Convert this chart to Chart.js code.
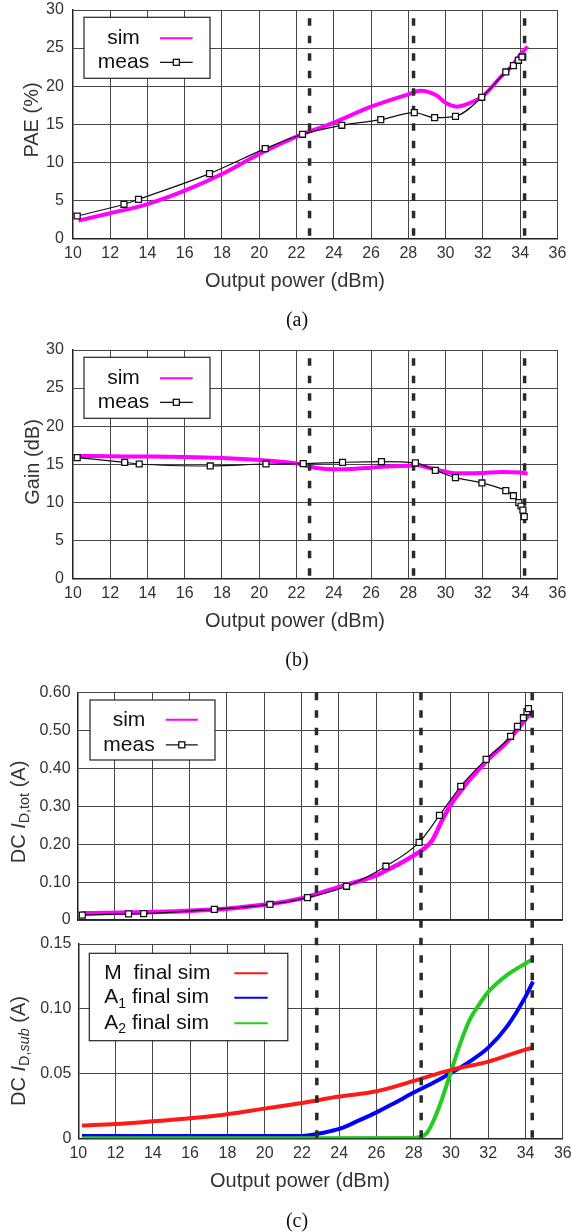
<!DOCTYPE html>
<html><head><meta charset="utf-8">
<script src="https://cdn.jsdelivr.net/npm/chart.js@4.4.0/dist/chart.umd.min.js"></script>
<style>
html,body{margin:0;padding:0;background:#fff;}
body{width:571px;height:1232px;position:relative;overflow:hidden;font-family:"Liberation Sans",Arial,Helvetica,sans-serif;}
canvas{position:absolute;left:0;}
.t{position:absolute;white-space:nowrap;color:#333;font-size:20px;line-height:1;transform:translate(-50%,-50%);}
.r{transform:translate(-50%,-50%) rotate(-90deg);}
.t sub{font-size:0.72em;vertical-align:-0.3em;line-height:1;}
.cap{position:absolute;font-family:"Liberation Serif","Times New Roman",serif;font-size:20px;line-height:1;color:#111;transform:translate(-50%,-50%);}
</style></head>
<body>
<canvas id="ca" width="571" height="300" style="top:0px"></canvas>
<canvas id="cb" width="571" height="300" style="top:340px"></canvas>
<canvas id="cc1" width="571" height="265" style="top:680px"></canvas>
<canvas id="cc2" width="571" height="302" style="top:930px"></canvas>

<div class="t r" style="left:31px;top:120px">PAE (%)</div>
<div class="t" style="left:295px;top:280px">Output power (dBm)</div>
<div class="cap" style="left:297px;top:319px">(a)</div>

<div class="t r" style="left:32px;top:462px">Gain (dB)</div>
<div class="t" style="left:295px;top:620px">Output power (dBm)</div>
<div class="cap" style="left:297px;top:659px">(b)</div>

<div class="t r" style="left:20px;top:812px">DC <i>I</i><sub>D,tot</sub> (A)</div>
<div class="t r" style="left:20px;top:1051px">DC <i>I</i><sub>D,<i>sub</i></sub> (A)</div>
<div class="t" style="left:300px;top:1180px">Output power (dBm)</div>
<div class="cap" style="left:297px;top:1220px">(c)</div>

<script>
// ---------------- DATA ----------------
const xTicksMin = 10, xTicksMax = 36, xTickStep = 2;

// (a) PAE
const paeMeasX = [10.23, 12.74, 13.52, 17.33, 20.32, 22.32, 24.43, 26.52, 28.32, 29.41, 30.53, 31.94, 33.23, 33.64, 33.91, 34.10];
const paeMeasY = [2.93, 4.47, 5.12, 8.50, 11.78, 13.67, 14.85, 15.59, 16.51, 15.86, 16.03, 18.53, 21.86, 22.69, 23.39, 23.83];
const paeSimX = [10.3, 12, 14, 16, 18, 20, 22, 24, 26, 28, 28.65, 29.5, 30, 30.6, 31, 32, 33, 33.5, 34, 34.4];
const paeSimY = [2.32, 3.3, 4.5, 6.26, 8.45, 11.08, 13.36, 15.2, 17.3, 18.92, 19.4, 18.8, 17.8, 17.3, 17.5, 18.7, 21.3, 22.5, 24.1, 25.2];

// (b) Gain
const gainMeasX = [10.23, 12.78, 13.56, 17.37, 20.36, 22.36, 24.47, 26.56, 28.38, 29.45, 30.53, 31.95, 33.23, 33.64, 33.93, 34.05, 34.15, 34.22];
const gainMeasY = [15.86, 15.24, 15.02, 14.76, 15.02, 15.07, 15.24, 15.33, 15.16, 14.19, 13.23, 12.53, 11.52, 10.85, 9.95, 9.5, 8.95, 8.1];
const gainSimX = [10.2, 12, 14, 16, 18, 20, 22, 23, 24, 25, 26, 27, 28, 28.5, 29, 30, 30.5, 31, 32, 33, 34, 34.4];
const gainSimY = [16.07, 16.03, 16.0, 15.94, 15.81, 15.55, 15.1, 14.54, 14.32, 14.37, 14.54, 14.72, 14.8, 14.85, 14.59, 14.0, 13.8, 13.8, 13.84, 13.97, 13.9, 13.75];

// (c) top: DC I_D,tot
const idMeasX = [10.25, 12.73, 13.54, 17.33, 20.31, 22.32, 24.41, 26.52, 28.30, 29.39, 30.53, 31.89, 33.20, 33.57, 33.89, 34.08, 34.16];
const idMeasY = [0.013, 0.016, 0.017, 0.028, 0.041, 0.059, 0.089, 0.142, 0.205, 0.276, 0.353, 0.424, 0.485, 0.511, 0.534, 0.550, 0.558];
const idSimX = [10.2, 14, 18, 20, 22, 24, 26, 26.5, 27.3, 28, 28.5, 29, 29.5, 30, 30.5, 31, 32, 33, 34, 34.3];
const idSimY = [0.018, 0.021, 0.030, 0.040, 0.057, 0.087, 0.118, 0.130, 0.150, 0.170, 0.186, 0.21, 0.26, 0.305, 0.339, 0.37, 0.424, 0.47, 0.53, 0.55];

// (c) bottom: DC I_D,sub
const mX  = [10.2, 12, 14, 16, 18, 20, 22, 24, 26, 28, 30, 32, 34, 34.4];
const mY  = [0.0098, 0.011, 0.0131, 0.0154, 0.0185, 0.0229, 0.0273, 0.0322, 0.0363, 0.0443, 0.0528, 0.0592, 0.0685, 0.070];
const a1X = [10.2, 22, 22.5, 23, 24, 25, 26, 27, 28, 29, 30, 31, 32, 33, 34, 34.4];
const a1Y = [0.0018, 0.0018, 0.0026, 0.0039, 0.0072, 0.0134, 0.0200, 0.0275, 0.0353, 0.0425, 0.0504, 0.0592, 0.0700, 0.0862, 0.1094, 0.121];
const a2X = [10.2, 20, 28, 28.4, 28.7, 29, 29.5, 30, 30.5, 31, 31.5, 32, 33, 34, 34.4];
const a2Y = [0, 0, 0.0003, 0.0013, 0.004, 0.0116, 0.0296, 0.0515, 0.0733, 0.0914, 0.103, 0.113, 0.126, 0.135, 0.1385];

// vertical dashed reference lines (dBm)
const markersAB = [22.7, 28.28, 34.24];
const markersC  = [22.8, 28.4, 34.36];

const labelsAB = ['sim', 'meas'];
const labelsC  = ['M  final sim', 'A_1 final sim', 'A_2 final sim'];

// ---------------- STYLE / HELPERS ----------------
const FONT = '"Liberation Sans", Arial, Helvetica, sans-serif';
const GRID = '#464646';
const AXIS = '#222';
const MAG = '#ff00ff';

const pts = (xs, ys) => xs.map((x, i) => ({x, y: ys[i]}));

function drawRich(ctx, text, x, y, align, size) {
  const parts = [];
  text.split(/(_\w)/).forEach(s => {
    if (!s) return;
    if (s[0] === '_' && s.length === 2) parts.push({t: s[1], sub: true});
    else parts.push({t: s, sub: false});
  });
  const f = `${size}px ${FONT}`, fs = `${Math.round(size * 0.68)}px ${FONT}`;
  let total = 0;
  parts.forEach(p => { ctx.font = p.sub ? fs : f; p.w = ctx.measureText(p.t).width; total += p.w; });
  let cx = align === 'center' ? x - total / 2 : x;
  ctx.textAlign = 'left';
  parts.forEach(p => {
    ctx.font = p.sub ? fs : f;
    ctx.fillText(p.t, cx, p.sub ? y + size * 0.3 : y);
    cx += p.w;
  });
}

// legend box drawn inside the plot area; offsets are relative to the box corner
const boxLegend = {
  id: 'boxLegend',
  afterDraw(chart, args, o) {
    if (!o || !o.items) return;
    const ca = chart.chartArea, ctx = chart.ctx;
    const x0 = ca.left + o.dx, y0 = ca.top + o.dy;
    ctx.save();
    ctx.fillStyle = '#fff';
    ctx.fillRect(x0, y0, o.w, o.h);
    ctx.strokeStyle = '#222'; ctx.lineWidth = 1.2;
    ctx.strokeRect(x0, y0, o.w, o.h);
    ctx.textBaseline = 'middle';
    o.items.forEach((it, i) => {
      const ds = chart.data.datasets[it.ds];
      const y = y0 + o.rows[i];
      ctx.fillStyle = '#111';
      drawRich(ctx, ds.label, x0 + o.tx, y, o.align, o.size);
      ctx.strokeStyle = ds.borderColor; ctx.lineWidth = it.lw;
      ctx.beginPath();
      ctx.moveTo(x0 + o.s0, y); ctx.lineTo(x0 + o.s1, y);
      ctx.stroke();
      if (it.marker) {
        const m = (o.s0 + o.s1) / 2 + x0, h = 3;
        ctx.fillStyle = '#fff';
        ctx.fillRect(m - h, y - h, 2 * h, 2 * h);
        ctx.lineWidth = 1.3; ctx.strokeStyle = '#111';
        ctx.strokeRect(m - h, y - h, 2 * h, 2 * h);
      }
    });
    ctx.restore();
  }
};

function xScale(h, show) {
  return {
    type: 'linear', min: xTicksMin, max: xTicksMax,
    ticks: {display: show, stepSize: xTickStep, autoSkip: false, maxRotation: 0, padding: 6, color: '#333', font: {family: FONT, size: 16}},
    grid: {color: GRID, lineWidth: 1, drawTicks: false},
    border: {color: AXIS, width: 1.5},
    afterFit(s) { s.height = h; s.paddingLeft = 0; s.paddingRight = 0; }
  };
}
function yScale(min, max, step, w, pad, fmt) {
  return {
    type: 'linear', min, max,
    ticks: {stepSize: step, padding: pad, color: '#333', font: {family: FONT, size: 16}, callback: fmt},
    grid: {color: GRID, lineWidth: 1, drawTicks: false},
    border: {color: AXIS, width: 1.5},
    afterFit(s) { s.width = w; s.paddingTop = 0; s.paddingBottom = 0; }
  };
}
const fmtInt = v => String(v);
const fmtDec = v => (Math.abs(v) < 1e-9 ? '0' : v.toFixed(2));

function simDs(label, xs, ys, color, w) {
  return {label, data: pts(xs, ys), borderColor: color, backgroundColor: color, borderWidth: w,
          pointRadius: 0, cubicInterpolationMode: 'monotone', order: 2};
}
function measDs(label, xs, ys) {
  return {label, data: pts(xs, ys), borderColor: '#111', backgroundColor: '#fff', borderWidth: 1.2,
          pointStyle: 'rect', pointRadius: 4.2, pointBorderWidth: 1.3, pointBackgroundColor: '#fff',
          pointBorderColor: '#111', cubicInterpolationMode: 'monotone', order: 0};
}
function dashDs(x, yTop, yBot, offset) {
  return {label: '', data: [{x, y: yTop}, {x, y: yBot}], borderColor: '#2a2a2a', borderWidth: 3.5,
          borderDash: [7.5, 10], borderDashOffset: offset, pointRadius: 0, clip: false, order: 1, tension: 0};
}

function mk(id, datasets, scales, legendOpts, pad) {
  return new Chart(document.getElementById(id), {
    type: 'line',
    data: {datasets},
    options: {
      responsive: false, animation: false, events: [],
      layout: {padding: pad},
      plugins: {legend: {display: false}, tooltip: {enabled: false}, boxLegend: legendOpts},
      scales
    },
    plugins: [boxLegend]
  });
}

const legAB = {dx: 11.1, dy: 7.3, w: 126, h: 61, align: 'center', tx: 39.5, rows: [21, 45], s0: 76, s1: 108.7, size: 21,
               items: [{ds: 0, lw: 2}, {ds: 1, lw: 1.3, marker: true}]};

// (a)
mk('ca', [
  simDs(labelsAB[0], paeSimX, paeSimY, MAG, 4),
  measDs(labelsAB[1], paeMeasX, paeMeasY),
  ...markersAB.map(m => dashDs(m, 30, 0, 9.2))
], {x: xScale(61.7, true), y: yScale(0, 30, 5, 72.9, 9, fmtInt)}, legAB, {top: 10, right: 13.6, left: 0, bottom: 0});

// (b)
mk('cb', [
  simDs(labelsAB[0], gainSimX, gainSimY, MAG, 4),
  measDs(labelsAB[1], gainMeasX, gainMeasY),
  ...markersAB.map(m => dashDs(m, 30, 0, 9.2))
], {x: xScale(61.7, true), y: yScale(0, 30, 5, 72.9, 9, fmtInt)}, legAB, {top: 10, right: 13.6, left: 0, bottom: 0});

// (c) top  (dashed markers run on through the gap below the plot)
mk('cc1', [
  simDs(labelsAB[0], idSimX, idSimY, MAG, 4.5),
  measDs(labelsAB[1], idMeasX, idMeasY),
  ...markersC.map(m => dashDs(m, 0.6, -0.0634, 17.5))
], {x: xScale(25, false), y: yScale(0, 0.6, 0.1, 77.6, 7, fmtDec)},
   {dx: 12.4, dy: 7.3, w: 125, h: 60, align: 'center', tx: 39, rows: [19.8, 44.8], s0: 75.8, s1: 107.8, size: 21,
    items: [{ds: 0, lw: 2}, {ds: 1, lw: 1.3, marker: true}]},
   {top: 12.7, right: 8.2, left: 0, bottom: 0});

// (c) bottom
mk('cc2', [
  {label: labelsC[0], data: pts(mX, mY), borderColor: '#ff1a1a', borderWidth: 4, pointRadius: 0, cubicInterpolationMode: 'monotone', order: 2},
  {label: labelsC[1], data: pts(a1X, a1Y), borderColor: '#0000ff', borderWidth: 4, pointRadius: 0, cubicInterpolationMode: 'monotone', order: 3},
  {label: labelsC[2], data: pts(a2X, a2Y), borderColor: '#22cc22', borderWidth: 4, pointRadius: 0, cubicInterpolationMode: 'monotone', order: 2.5},
  ...markersC.map(m => dashDs(m, 0.15, 0, 6.3))
], {x: xScale(93.7, true), y: yScale(0, 0.15, 0.05, 78.3, 7, fmtDec)},
   {dx: 11, dy: 9.3, w: 198.5, h: 87.4, align: 'left', tx: 15, rows: [20, 44.4, 70], s0: 145, s1: 178.4, size: 21,
    items: [{ds: 0, lw: 2}, {ds: 1, lw: 2}, {ds: 2, lw: 2}]},
   {top: 14, right: 8.2, left: 0, bottom: 0});
</script>
</body></html>
